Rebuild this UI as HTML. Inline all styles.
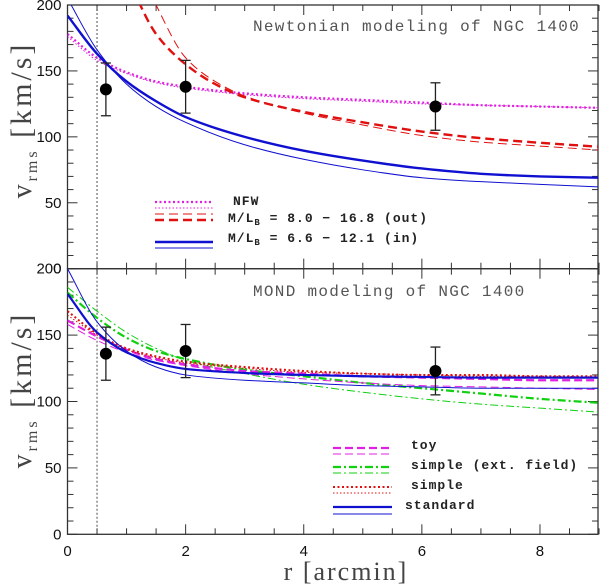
<!DOCTYPE html>
<html><head><meta charset="utf-8"><style>
html,body{margin:0;padding:0;background:#fff;}
svg{display:block;font-family:"Liberation Sans",sans-serif;}
.t{font-family:"Liberation Mono",monospace;fill:#555;font-size:16px;letter-spacing:1.3px;}
.lg{font-family:"Liberation Mono",monospace;fill:#222;font-size:13px;font-weight:bold;letter-spacing:1px;}
.tk{font-size:15px;fill:#111;}
</style></head><body>
<svg id="c" width="600" height="584" viewBox="0 0 600 584">
<defs>
<clipPath id="cp1"><rect x="67.5" y="5" width="530.5" height="263.7"/></clipPath>
<clipPath id="cp2"><rect x="67.5" y="268.7" width="530.5" height="265.6"/></clipPath>
</defs>
<g id="g1"></g>
<g id="g2"></g>
<text class="t" x="253" y="31">Newtonian modeling of NGC 1400</text>
<text class="t" x="253" y="296">MOND modeling of NGC 1400</text>
<g transform="translate(31,120) rotate(-90)">
<text text-anchor="middle" font-family="Liberation Serif,serif" fill="#444" letter-spacing="3"><tspan font-size="28">v</tspan><tspan font-size="16" dy="6">rms</tspan><tspan font-size="30" dy="-6"> [km/s]</tspan></text></g>
<g transform="translate(31,390) rotate(-90)">
<text text-anchor="middle" font-family="Liberation Serif,serif" fill="#444" letter-spacing="3"><tspan font-size="28">v</tspan><tspan font-size="16" dy="6">rms</tspan><tspan font-size="30" dy="-6"> [km/s]</tspan></text></g>
<text x="346" y="580" text-anchor="middle" font-family="Liberation Serif,serif" font-size="26" fill="#444" letter-spacing="2">r [arcmin]</text>
</svg>
<script>
const rGrid=[0,0.5,1,1.5,2,3,4,5,6,7,8,9];
const rRed=[1,1.5,2,2.5,3,4,5,6,7,8,9];
// Newtonian panel
const nfwThick=[178,160,149,142,138,133,130,128,126,124,123,122];
const nfwThin=[176,158,148,141,137,132,129,127,125,124,123,122];
const redThick=[222,178,155,140,130,119,111,104,99,95.5,92.5];
const redThin=[250,200,160,142,131,118,109,101,96,93,90];
const blueThickN=[192,163,142,127,115,100,89.5,82,76,72,70,69];
const blueThinN=[205,166,140,123,111,94,83,75,69,66,64,62];
// MOND panel
const blueThickM=[181,152,137,129,124.5,121.5,120,119,118.5,118,118,118];
const blueThinM=[200,160,138,126,120,116,114,112,111,110,110,110];
const redDotM=[168,151,140,134,130,126,123,121,120,120,119,119];
const redDotThinM=[165,150,139,133,129,125,122,121,120,119,119,118.5];
const greenThick=[182,163,148,138,132,124,119,114,110,106,102,99];
const greenThin=[186,168,152,140,131,121,113,107,102,98,95,92];
const toyThick=[161,149,139,132,128,123,121,119,118,117,116,116];
const toyThin=[158,146,137,131,127,121,117,114,112,111,110,109];
// observations
const obsR=[0.65,2,6.23];
const obsV=[136,138,123];
const obsErr=[20,20,18];
const xTicks=[0,2,4,6,8];
const yTicks=[0,50,100,150,200];

const NS='http://www.w3.org/2000/svg';
const X0=67.5,PX=59.06,XR=598;
function xs(r){return X0+r*PX;}
function ysTop(v){return 268.7-v*1.3185;}
function ysBot(v){return 534.3-v*1.328;}
function mk(tag,attrs,parent){const e=document.createElementNS(NS,tag);for(const k in attrs)e.setAttribute(k,attrs[k]);parent.appendChild(e);return e;}
function pathD(rs,vs,ys){
  const n=rs.length,px=rs.map(xs),py=vs.map(ys);
  const d=[],m=[];
  for(let i=0;i<n-1;i++)d.push((py[i+1]-py[i])/(px[i+1]-px[i]));
  m[0]=d[0];m[n-1]=d[n-2];
  for(let i=1;i<n-1;i++){
    if(d[i-1]*d[i]<=0)m[i]=0;
    else{const h0=px[i]-px[i-1],h1=px[i+1]-px[i];const w1=2*h1+h0,w2=h1+2*h0;m[i]=(w1+w2)/(w1/d[i-1]+w2/d[i]);}
  }
  let s='M'+px[0]+','+py[0];
  for(let i=0;i<n-1;i++){
    const h=px[i+1]-px[i];
    s+=' C'+(px[i]+h/3)+','+(py[i]+m[i]*h/3)+' '+(px[i+1]-h/3)+','+(py[i+1]-m[i+1]*h/3)+' '+px[i+1]+','+py[i+1];
  }
  return s;
}
function curve(g,rs,vs,ys,stroke,w,dash,name,clip){
  const e=mk('path',{d:pathD(rs,vs,ys),fill:'none',stroke:stroke,'stroke-width':w,'clip-path':'url(#'+clip+')'},g);
  if(dash)e.setAttribute('stroke-dasharray',dash);
  
  
}
function axes(g,ys,yTop,yBot,labelTop){
  const fr=mk('rect',{x:X0,y:yTop,width:XR-X0,height:yBot-yTop,fill:'none',stroke:'#333','stroke-width':1.3},g);
  
  
  for(let r=0;r<=9.01;r+=0.5){
    const L=(Math.abs(r-Math.round(r/2)*2)<1e-6)?10:6;const x=xs(r);
    mk('line',{x1:x,x2:x,y1:yBot,y2:yBot-L,stroke:'#333'},g);
    mk('line',{x1:x,x2:x,y1:yTop,y2:yTop+L,stroke:'#333'},g);
  }
  for(let v=0;v<=200;v+=10){
    const L=v%50===0?10:6;const y=ys(v);
    mk('line',{x1:X0,x2:X0+L,y1:y,y2:y,stroke:'#333'},g);
    mk('line',{x1:XR,x2:XR-L,y1:y,y2:y,stroke:'#333'},g);
  }
  yTicks.forEach(v=>{
    if(!labelTop&&v===0)return;
    const t=mk('text',{x:X0-6,y:ys(v)+5,'text-anchor':'end',class:'tk'},g);t.textContent=v;
    
    
  });
  const dl=mk('line',{x1:xs(0.5),x2:xs(0.5),y1:yTop,y2:yBot,stroke:'#222','stroke-width':0.8,'stroke-dasharray':'2,2'},g);
  
  
}
function obs(g,ys){
  obsR.forEach((r,i)=>{
    const x=xs(r),y=ys(obsV[i]),y1=ys(obsV[i]+obsErr[i]),y2=ys(obsV[i]-obsErr[i]);
    const eg=mk('g',{stroke:'#222','stroke-width':1.3},g);
    
    
    mk('line',{x1:x,x2:x,y1:y1,y2:y2},eg);
    mk('line',{x1:x-5,x2:x+5,y1:y1,y2:y1},eg);
    mk('line',{x1:x-5,x2:x+5,y1:y2,y2:y2},eg);
    const c=mk('circle',{cx:x,cy:y,r:6,fill:'#000'},g);
    
    
  });
}
function legLine(g,x1,x2,y,stroke,w,dash,name){
  const e=mk('line',{x1:x1,x2:x2,y1:y,y2:y,stroke:stroke,'stroke-width':w},g);
  if(dash)e.setAttribute('stroke-dasharray',dash);
  
  
}
function legText(g,x,y,html,name){
  const t=mk('text',{x:x,y:y,class:'lg'},g);t.innerHTML=html;
  
  
}
const g1=document.getElementById('g1'),g2=document.getElementById('g2');
const MAG='#e020e0',RED='#e01010',BLU='#1010d0',GRN='#10d010';
// top panel
axes(g1,ysTop,5,268.7,true);
curve(g1,rGrid,nfwThin,ysTop,MAG,1,'1.5,2','nfw-thin','cp1');
curve(g1,rGrid,nfwThick,ysTop,MAG,2.2,'2,2.5','nfw-thick','cp1');
curve(g1,rRed,redThin,ysTop,RED,1,'9,5','ml-out-thin','cp1');
curve(g1,rRed,redThick,ysTop,RED,2.4,'9,5','ml-out-thick','cp1');
curve(g1,rGrid,blueThinN,ysTop,BLU,1,null,'ml-in-thin','cp1');
curve(g1,rGrid,blueThickN,ysTop,BLU,2.4,null,'ml-in-thick','cp1');
obs(g1,ysTop);
legLine(g1,155,213,202,MAG,2.2,'2,2.5','legend-nfw-thick');
legLine(g1,155,213,208,MAG,1,'1.5,2','legend-nfw-thin');
legLine(g1,155,213,214,RED,1,'9,5','legend-out-thin');
legLine(g1,155,213,220,RED,2.4,'9,5','legend-out-thick');
legLine(g1,155,213,242,BLU,2.4,null,'legend-in-thick');
legLine(g1,155,213,248,BLU,1,null,'legend-in-thin');
legText(g1,233,205,'NFW','legend-nfw-label');
legText(g1,228,222,'M/L<tspan font-size="9" dy="3">B</tspan><tspan dy="-3"> = 8.0 − 16.8 (out)</tspan>','legend-out-label');
legText(g1,228,242,'M/L<tspan font-size="9" dy="3">B</tspan><tspan dy="-3"> = 6.6 − 12.1 (in)</tspan>','legend-in-label');
// bottom panel
axes(g2,ysBot,268.7,534.3,true);
curve(g2,rGrid,greenThin,ysBot,GRN,1,'8,3,2,3','simple-ext-thin','cp2');
curve(g2,rGrid,greenThick,ysBot,GRN,2.2,'8,3,2,3','simple-ext-thick','cp2');
curve(g2,rGrid,toyThin,ysBot,MAG,1,'8,4','toy-thin','cp2');
curve(g2,rGrid,toyThick,ysBot,MAG,2.2,'8,4','toy-thick','cp2');
curve(g2,rGrid,redDotThinM,ysBot,RED,1,'1.5,2','simple-thin','cp2');
curve(g2,rGrid,redDotM,ysBot,RED,2,'2,2.5','simple-thick','cp2');
curve(g2,rGrid,blueThinM,ysBot,BLU,1,null,'standard-thin','cp2');
curve(g2,rGrid,blueThickM,ysBot,BLU,2.2,null,'standard-thick','cp2');
obs(g2,ysBot);
legLine(g2,333,392,448,MAG,2.2,'8,4','legend-toy-thick');
legLine(g2,333,392,454,MAG,1,'8,4','legend-toy-thin');
legLine(g2,333,392,467,GRN,2.2,'8,3,2,3','legend-ext-thick');
legLine(g2,333,392,473,GRN,1,'8,3,2,3','legend-ext-thin');
legLine(g2,333,392,487,RED,2,'2,2.5','legend-simple-thick');
legLine(g2,333,392,493,RED,1,'1.5,2','legend-simple-thin');
legLine(g2,333,392,507,BLU,2.2,null,'legend-standard-thick');
legLine(g2,333,392,514,BLU,1,null,'legend-standard-thin');
legText(g2,411,449,'toy','legend-toy-label');
legText(g2,411,469,'simple (ext. field)','legend-ext-label');
legText(g2,411,489,'simple','legend-simple-label');
legText(g2,405,509,'standard','legend-standard-label');
// x tick labels
xTicks.forEach(r=>{
  const t=mk('text',{x:xs(r),y:556,'text-anchor':'middle',class:'tk'},document.getElementById('c'));t.textContent=r;
  
  
});
</script>
</body></html>
